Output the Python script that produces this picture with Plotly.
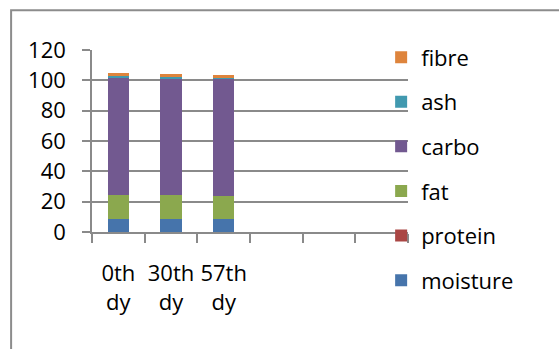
import plotly.graph_objects as go

# Proximate composition over storage time (stacked, %)
categories = ["0th<br>dy", "30th<br>dy", "57th<br>dy", " ", "  ", "   "]
days = categories[:3]

moisture = [8.6, 8.6, 8.6]
protein = [0.0, 0.0, 0.0]
fat = [15.5, 15.5, 15.3]
carbo = [77.8, 77.4, 77.0]
ash = [0.7, 0.7, 0.7]
fibre = [2.0, 2.0, 2.0]

series = [
    ("moisture", moisture, "#4674AB"),
    ("protein", protein, "#AA4644"),
    ("fat", fat, "#8BA84E"),
    ("carbo", carbo, "#725990"),
    ("ash", ash, "#4199AF"),
    ("fibre", fibre, "#DE843C"),
]

FONT = "Open Sans"
GRID = "#8a8a8a"

fig = go.Figure()
for i, (name, vals, color) in enumerate(series):
    fig.add_trace(go.Bar(
        x=days, y=vals, name=name, legendgroup=name,
        legendrank=len(series) - i,
        marker=dict(color=color, line=dict(width=0)),
        width=0.4,
    ))

fig.update_layout(
    width=559, height=349,
    barmode="stack",
    paper_bgcolor="white", plot_bgcolor="white",
    margin=dict(l=92, r=151, t=50, b=117),
    font=dict(family=FONT, size=22, color="#000000"),
    showlegend=True,
    legend=dict(
        x=0.915, xanchor="left", y=1.075, yanchor="top",
        traceorder="grouped", tracegroupgap=13, maxheight=400,
        font=dict(family=FONT, size=22), bgcolor="rgba(0,0,0,0)",
    ),
    xaxis=dict(
        type="category", categoryorder="array", categoryarray=categories,
        range=[-0.5, 5.5], tickson="boundaries", tickangle=0,
        showline=True, linecolor=GRID, linewidth=1.5,
        ticks="outside", ticklen=9, tickcolor=GRID, tickwidth=1.5,
        showgrid=False, ticklabelstandoff=21,
    ),
    yaxis=dict(
        range=[0, 120], tickvals=[0, 20, 40, 60, 80, 100, 120],
        showline=True, linecolor=GRID, linewidth=1.5,
        ticks="outside", ticklen=8, tickcolor=GRID, tickwidth=1.5,
        showgrid=True, gridcolor=GRID, gridwidth=1.5,
        zeroline=False, ticklabelstandoff=12,
    ),
    shapes=[dict(
        type="rect", xref="paper", yref="paper",
        x0=-0.256, x1=2.0, y0=-1.0, y1=1.219,
        line=dict(color="#8c8c8c", width=2), layer="below",
    )],
)

fig.write_html("out.html")
